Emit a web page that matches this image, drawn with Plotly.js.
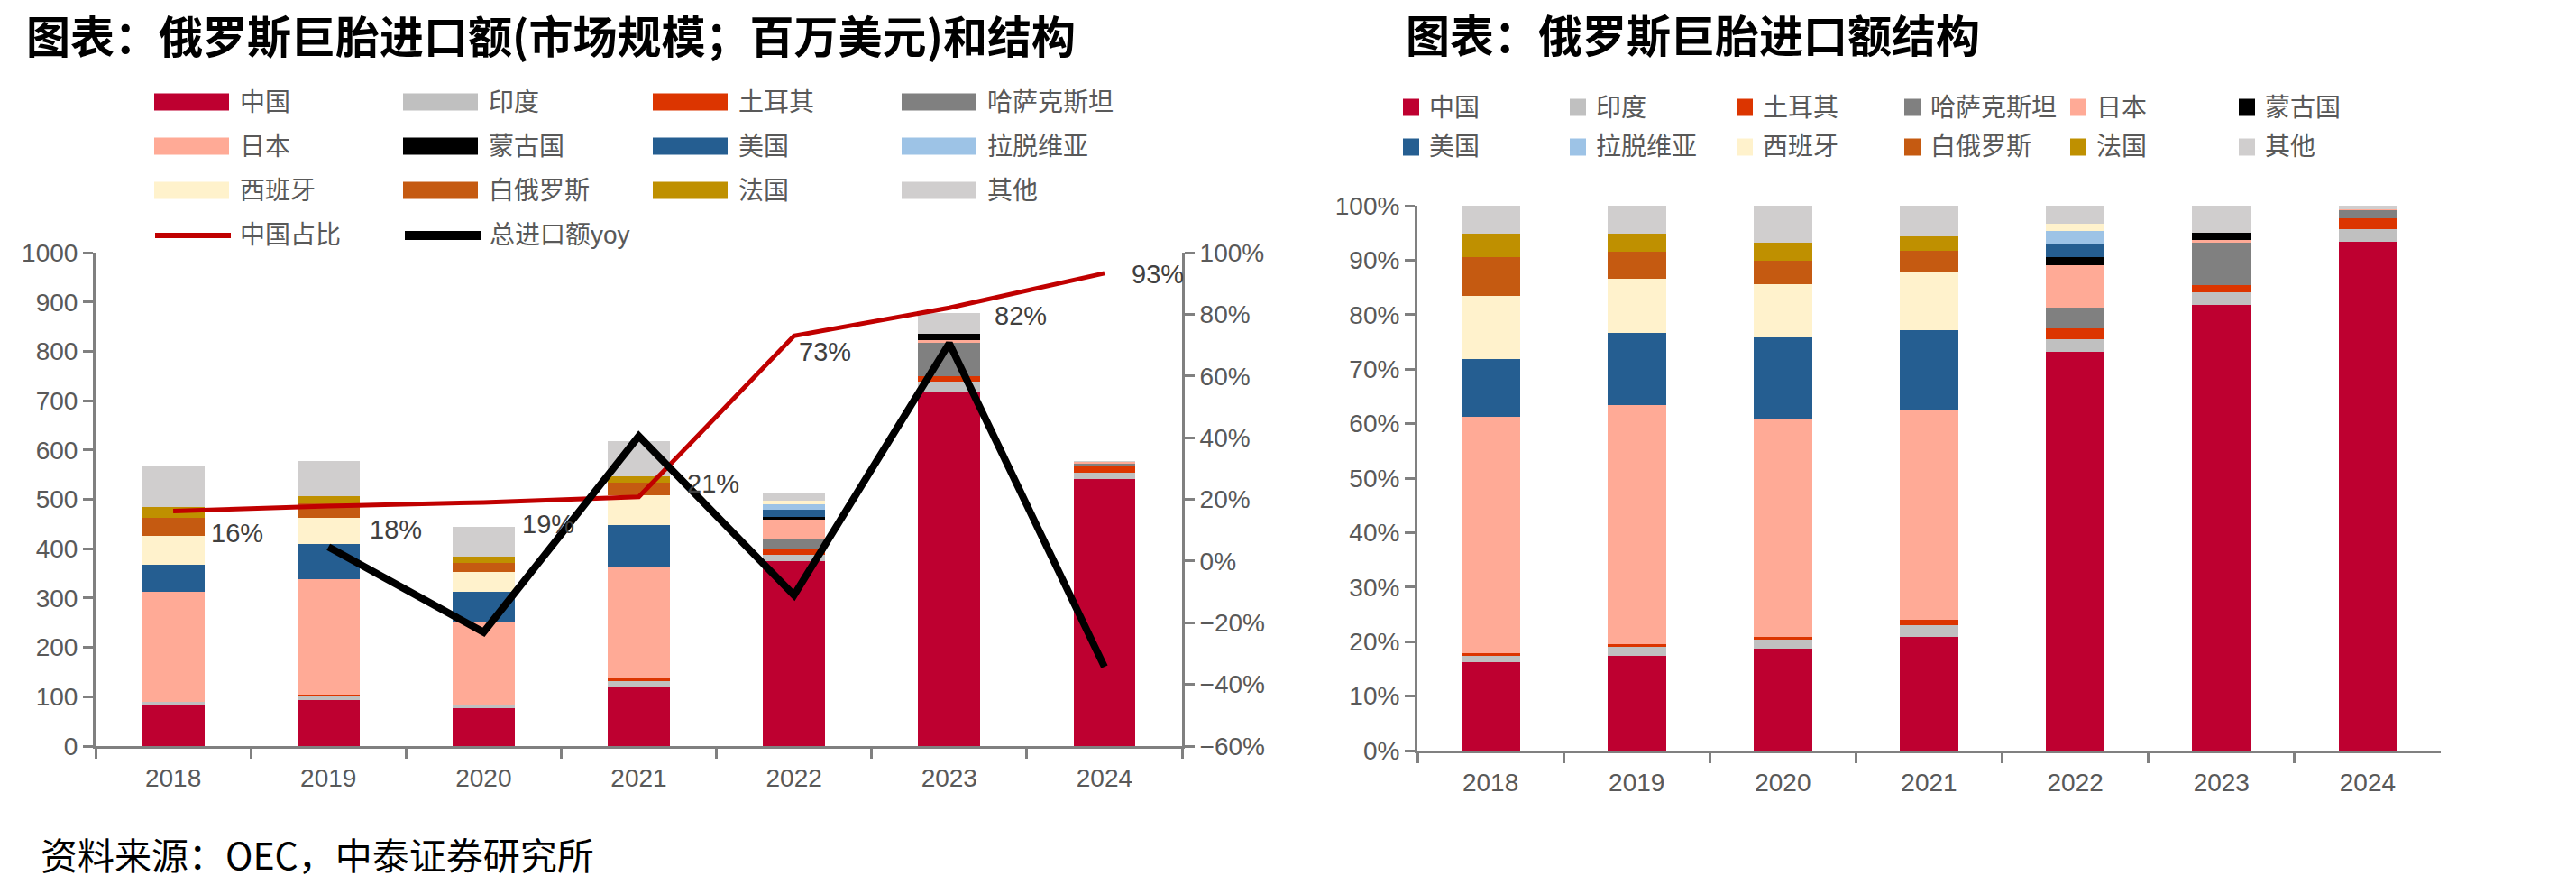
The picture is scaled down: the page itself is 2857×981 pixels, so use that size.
<!DOCTYPE html>
<html><head><meta charset="utf-8">
<script src="https://cdn.plot.ly/plotly-3.0.1.min.js"></script>
<style>html,body{margin:0;padding:0;background:#fff}</style>
</head><body><div id="chart" style="width:2857px;height:981px"></div>
<script>
// ---------------- DATA ----------------
const years = ['2018','2019','2020','2021','2022','2023','2024'];
const countries = ['中国','印度','土耳其','哈萨克斯坦','日本','蒙古国','美国','拉脱维亚','西班牙','白俄罗斯','法国','其他'];

// Left chart: import value by origin (million USD)
const valChina      = [82, 93.7, 76.2, 121, 375.5, 718, 541];
const valIndia      = [7, 7, 7, 10.5, 11.9, 20.5, 13];
const valTurkey     = [1.2, 2.8, 1.4, 7.5, 11.9, 11.2, 13];
const valKazakhstan = [0, 0, 0, 0, 20.3, 68.3, 6];
const valJapan      = [222.6, 235.5, 165.7, 223, 38.4, 4, 2];
const valMongolia   = [0, 0, 0, 0, 7, 13, 0];
const valUSA        = [55.2, 70.8, 62.3, 86, 14, 0, 0];
const valLatvia     = [0, 0, 0, 0, 11.2, 0, 0];
const valSpain      = [58.1, 52.2, 40.4, 60, 7, 0, 0];
const valBelarus    = [36.1, 29.6, 18.3, 25, 0, 0, 0];
const valFrance     = [22.6, 14.4, 12.7, 14, 0, 0, 0];
const valOther      = [83.9, 71.6, 60, 71, 16.8, 42.6, 3];

// Left chart lines (right axis)
const chinaShare = [0.162, 0.178, 0.19, 0.208, 0.73, 0.821, 0.933];
const totalYoY   = [null, 0.046, -0.231, 0.405, -0.111, 0.706, -0.343];

// Right chart: structure (% of total)
const shrChina      = [16.2, 17.4, 18.7, 20.8, 73.1, 81.8, 93.4];
const shrIndia      = [1.2, 1.6, 1.6, 2.2, 2.4, 2.3, 2.3];
const shrTurkey     = [0.5, 0.5, 0.5, 1.0, 2.0, 1.4, 2.0];
const shrKazakhstan = [0, 0, 0, 0, 3.8, 7.7, 1.4];
const shrJapan      = [43.4, 43.9, 40.1, 38.6, 7.8, 0.55, 0.3];
const shrMongolia   = [0, 0, 0, 0, 1.5, 1.25, 0];
const shrUSA        = [10.5, 13.3, 15.0, 14.6, 2.5, 0, 0];
const shrLatvia     = [0, 0, 0, 0, 2.2, 0, 0];
const shrSpain      = [11.7, 9.9, 9.7, 10.6, 1.4, 0, 0];
const shrBelarus    = [7.1, 5.0, 4.3, 3.9, 0, 0, 0];
const shrFrance     = [4.2, 3.2, 3.3, 2.7, 0, 0, 0];
const shrOther      = [5.2, 5.2, 6.8, 5.6, 3.3, 5.0, 0.6];

// ---------------- STYLE ----------------
const colors = ['#BE0030','#C0C0C0','#DC3500','#808080','#FFAA96','#000000',
                '#255E91','#9DC3E6','#FFF2CC','#C55A11','#BF9000','#D0CECE'];
const W = 2857, H = 981;
const PX = x => x / W, PY = y => 1 - y / H;
const tickFont = {family: 'Liberation Sans, Arial, sans-serif', size: 28, color: '#595959'};
const cjkFont = {family: 'Liberation Sans, Noto Sans CJK SC, sans-serif', size: 28, color: '#595959'};
const axisGray = '#808080';
// label offsets (px) for the China-share data labels
const labelShift = [[40,-25],[44,-26],[41,-24],[51,15],[3,-18],[48,-9],[28,-1]];

const leftVals = [valChina,valIndia,valTurkey,valKazakhstan,valJapan,valMongolia,valUSA,valLatvia,valSpain,valBelarus,valFrance,valOther];
const rightVals = [shrChina,shrIndia,shrTurkey,shrKazakhstan,shrJapan,shrMongolia,shrUSA,shrLatvia,shrSpain,shrBelarus,shrFrance,shrOther];

const traces = [];
countries.forEach((c, i) => {
  traces.push({type:'bar', name:c, x:years, y:leftVals[i], xaxis:'x', yaxis:'y',
    marker:{color:colors[i], line:{width:0}}, showlegend:false, hoverinfo:'skip'});
});
traces.push({type:'scatter', mode:'lines', name:'中国占比', x:years, y:chinaShare, xaxis:'x', yaxis:'y2',
  line:{color:'#C00000', width:5}, showlegend:false, hoverinfo:'skip'});
traces.push({type:'scatter', mode:'lines', name:'总进口额yoy', x:years, y:totalYoY, xaxis:'x', yaxis:'y2',
  line:{color:'#000000', width:8}, connectgaps:false, showlegend:false, hoverinfo:'skip'});
countries.forEach((c, i) => {
  traces.push({type:'bar', name:c, x:years, y:rightVals[i], xaxis:'x2', yaxis:'y3',
    marker:{color:colors[i], line:{width:0}}, showlegend:false, hoverinfo:'skip'});
});

const annotations = [];
const shapes = [];

// titles & source
annotations.push({xref:'paper', yref:'paper', x:PX(27), y:PY(37), xanchor:'left', yanchor:'middle', showarrow:false,
  text:'<b>图表：俄罗斯巨胎进口额(市场规模；百万美元)和结构</b>', font:{family:'Noto Sans CJK SC', size:49, color:'#000'}});
annotations.push({xref:'paper', yref:'paper', x:PX(1557), y:PY(36), xanchor:'left', yanchor:'middle', showarrow:false,
  text:'<b>图表：俄罗斯巨胎进口额结构</b>', font:{family:'Noto Sans CJK SC', size:49, color:'#000'}});
annotations.push({xref:'paper', yref:'paper', x:PX(43), y:PY(946), xanchor:'left', yanchor:'middle', showarrow:false,
  text:'资料来源：OEC，中泰证券研究所', font:{family:'Noto Sans CJK SC', size:41, color:'#000'}});

// China share data labels (x given as category index)
years.forEach((yr, i) => {
  annotations.push({xref:'x', yref:'y2', x:i, y:chinaShare[i], xanchor:'left', yanchor:'middle', showarrow:false,
    xshift:labelShift[i][0], yshift:labelShift[i][1],
    text: Math.round(chinaShare[i]*100) + '%', font:{family:'Liberation Sans, Arial, sans-serif', size:29, color:'#404040'}});
});

// Left legend (4 columns)
const lCols = [171, 447, 724, 1000], lRows = [113, 162, 211, 261];
countries.forEach((c, i) => {
  const cx = lCols[i % 4], cy = lRows[Math.floor(i / 4)];
  shapes.push({type:'rect', xref:'paper', yref:'paper', x0:PX(cx), x1:PX(cx+83), y0:PY(cy-9.5), y1:PY(cy+9.5),
    fillcolor:colors[i], line:{width:0}});
  annotations.push({xref:'paper', yref:'paper', x:PX(cx+93), y:PY(cy), xanchor:'left', yanchor:'middle', showarrow:false,
    text:c, font:cjkFont});
});
shapes.push({type:'line', xref:'paper', yref:'paper', x0:PX(172), x1:PX(256), y0:PY(261), y1:PY(261), line:{color:'#C00000', width:6}});
annotations.push({xref:'paper', yref:'paper', x:PX(264), y:PY(261), xanchor:'left', yanchor:'middle', showarrow:false, text:'中国占比', font:cjkFont});
shapes.push({type:'line', xref:'paper', yref:'paper', x0:PX(449), x1:PX(533), y0:PY(261), y1:PY(261), line:{color:'#000000', width:10}});
annotations.push({xref:'paper', yref:'paper', x:PX(541), y:PY(261), xanchor:'left', yanchor:'middle', showarrow:false, text:'总进口额yoy', font:cjkFont});

// Right legend (6 columns)
const rCols = [1556, 1741, 1926, 2112, 2296, 2483], rRows = [119, 163];
countries.forEach((c, i) => {
  const cx = rCols[i % 6], cy = rRows[Math.floor(i / 6)];
  shapes.push({type:'rect', xref:'paper', yref:'paper', x0:PX(cx), x1:PX(cx+18), y0:PY(cy-9.5), y1:PY(cy+9.5),
    fillcolor:colors[i], line:{width:0}});
  annotations.push({xref:'paper', yref:'paper', x:PX(cx+27), y:PY(cy), xanchor:'left', yanchor:'middle', showarrow:false,
    text:c, font:cjkFont});
});

const axCommon = {showgrid:false, zeroline:false, showline:true, linecolor:axisGray, linewidth:3,
  ticks:'outside', ticklen:11, tickwidth:3, tickcolor:axisGray, tickfont:tickFont, fixedrange:true};

const layout = {
  width:W, height:H, margin:{l:0, r:0, t:0, b:0}, paper_bgcolor:'#fff', plot_bgcolor:'rgba(0,0,0,0)',
  barmode:'stack', bargap:0.6, showlegend:false,
  xaxis: Object.assign({}, axCommon, {domain:[PX(106), PX(1311)], anchor:'y', type:'category', range:[-0.5, 6.5], autorange:false, tickson:'boundaries', ticklabelstandoff:8}),
  yaxis: Object.assign({}, axCommon, {domain:[PY(827), PY(280)], anchor:'x', range:[0,1000], autorange:false, dtick:100, tick0:0}),
  yaxis2: Object.assign({}, axCommon, {overlaying:'y', side:'right', anchor:'x', range:[-0.6,1.0], autorange:false, dtick:0.2, tick0:0, tickformat:'.0%'}),
  xaxis2: Object.assign({}, axCommon, {domain:[PX(1572), PX(2707)], anchor:'y3', type:'category', range:[-0.5, 6.5], autorange:false, tickson:'boundaries', ticklabelstandoff:8}),
  yaxis3: Object.assign({}, axCommon, {domain:[PY(832), PY(228)], anchor:'x2', range:[0,100], autorange:false, dtick:10, tick0:0, ticksuffix:'%'}),
  annotations: annotations,
  shapes: shapes
};

Plotly.newPlot('chart', traces, layout, {staticPlot:true, displayModeBar:false});
</script></body></html>
